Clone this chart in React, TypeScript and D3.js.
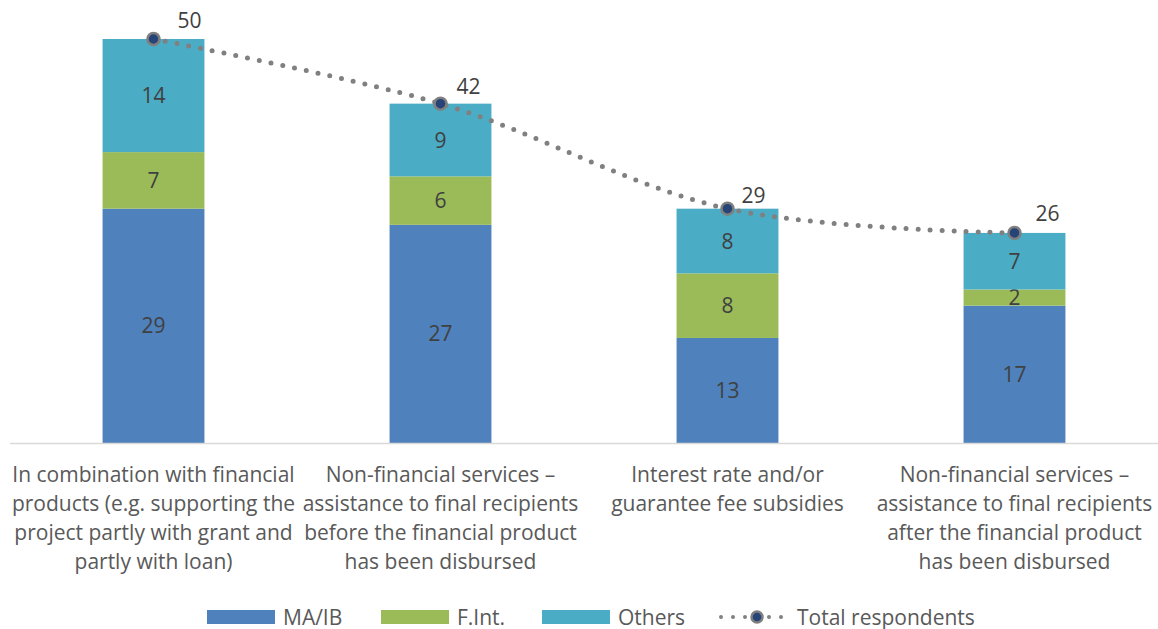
import React from "react";
import * as d3 from "d3";

const categories = [
  ["In combination with financial", "products (e.g. supporting the", "project partly with grant and", "partly with loan)"],
  ["Non-financial services –", "assistance to final recipients", "before the financial product", "has been disbursed"],
  ["Interest rate and/or", "guarantee fee subsidies"],
  ["Non-financial services –", "assistance to final recipients", "after the financial product", "has been disbursed"],
];
const seriesNames = ["MA/IB", "F.Int.", "Others"];
const maib = [29, 27, 13, 17];
const fint = [7, 6, 8, 2];
const others = [14, 9, 8, 7];
const totals = [50, 42, 29, 26];
const totalLabel = "Total respondents";

const colors = ["#4F81BD", "#9BBB59", "#4BACC6"];
const totalLabelOffsets = [[36, -19], [28, -17], [26, -13], [33, -19]];

const W = 1158, H = 629;
const FONT = "'Open Sans', sans-serif";
const FS = 21;

export default function App() {
  const ids = categories.map((_, i) => String(i));
  const x = d3.scaleBand().domain(ids).range([10, 1158]).paddingInner(0.645).paddingOuter(0.3225);
  const y = d3.scaleLinear().domain([0, 50]).range([443, 39]);
  const rows = ids.map((id, i) => ({ id, "MA/IB": maib[i], "F.Int.": fint[i], Others: others[i] }));
  const stacked = d3.stack<any>().keys(seriesNames)(rows);
  const cx = (i: number) => (x(ids[i]) as number) + x.bandwidth() / 2;
  const line = d3.line<number>().x((_, i) => cx(i)).y((d) => y(d)).curve(d3.curveCatmullRom.alpha(0.5));

  const legendItems = [
    { x: 207, tx: 283, label: seriesNames[0], kind: "rect", color: colors[0] },
    { x: 381, tx: 457, label: seriesNames[1], kind: "rect", color: colors[1] },
    { x: 542, tx: 618, label: seriesNames[2], kind: "rect", color: colors[2] },
    { x: 721, tx: 797, label: totalLabel, kind: "line", color: "#7F7F7F" },
  ];
  const ly = 617;

  return (
    <svg width={W} height={H} style={{ position: "absolute", left: 0, top: 0, background: "#fff" }} fontFamily={FONT}>
      <rect width={W} height={H} fill="#fff" />
      {stacked.map((s, si) => (
        <g key={si}>
          {s.map((d, i) => (
            <g key={i}>
              <rect x={x(ids[i])} width={x.bandwidth()} y={y(d[1])} height={y(d[0]) - y(d[1])} fill={colors[si]} />
              <text x={cx(i)} y={(y(d[0]) + y(d[1])) / 2} dy="0.36em" textAnchor="middle" fontSize={FS} fill="#404040">
                {d[1] - d[0]}
              </text>
            </g>
          ))}
        </g>
      ))}
      <line x1={10} x2={1158} y1={443.5} y2={443.5} stroke="#D9D9D9" strokeWidth={1.5} />
      {categories.map((lines, i) => (
        <text key={i} x={cx(i)} textAnchor="middle" fontSize={FS} fill="#595959">
          {lines.map((l, j) => (
            <tspan key={j} x={cx(i)} y={481.5 + j * 29}>{l}</tspan>
          ))}
        </text>
      ))}
      <path d={line(totals) || ""} fill="none" stroke="#808080" strokeWidth={5} strokeLinecap="round" strokeDasharray="0 12" />
      {totals.map((t, i) => (
        <g key={i}>
          <circle cx={cx(i)} cy={y(t)} r={6} fill="#264478" stroke="#7F7F7F" strokeWidth={2.5} />
          <text x={cx(i) + totalLabelOffsets[i][0]} y={y(t) + totalLabelOffsets[i][1]} dy="0.36em" textAnchor="middle" fontSize={FS} fill="#404040">
            {t}
          </text>
        </g>
      ))}
      {legendItems.map((it, i) => (
        <g key={i}>
          {it.kind === "rect" ? (
            <rect x={it.x} y={ly - 7} width={68} height={14} fill={it.color} />
          ) : (
            <g>
              <line x1={it.x} x2={it.x + 66} y1={ly} y2={ly} stroke="#808080" strokeWidth={4} strokeLinecap="round" strokeDasharray="0 12" />
              <circle cx={it.x + 36} cy={ly} r={5.5} fill="#264478" stroke="#7F7F7F" strokeWidth={2.5} />
            </g>
          )}
          <text x={it.tx} y={ly} dy="0.36em" fontSize={FS} fill="#595959">{it.label}</text>
        </g>
      ))}
    </svg>
  );
}
